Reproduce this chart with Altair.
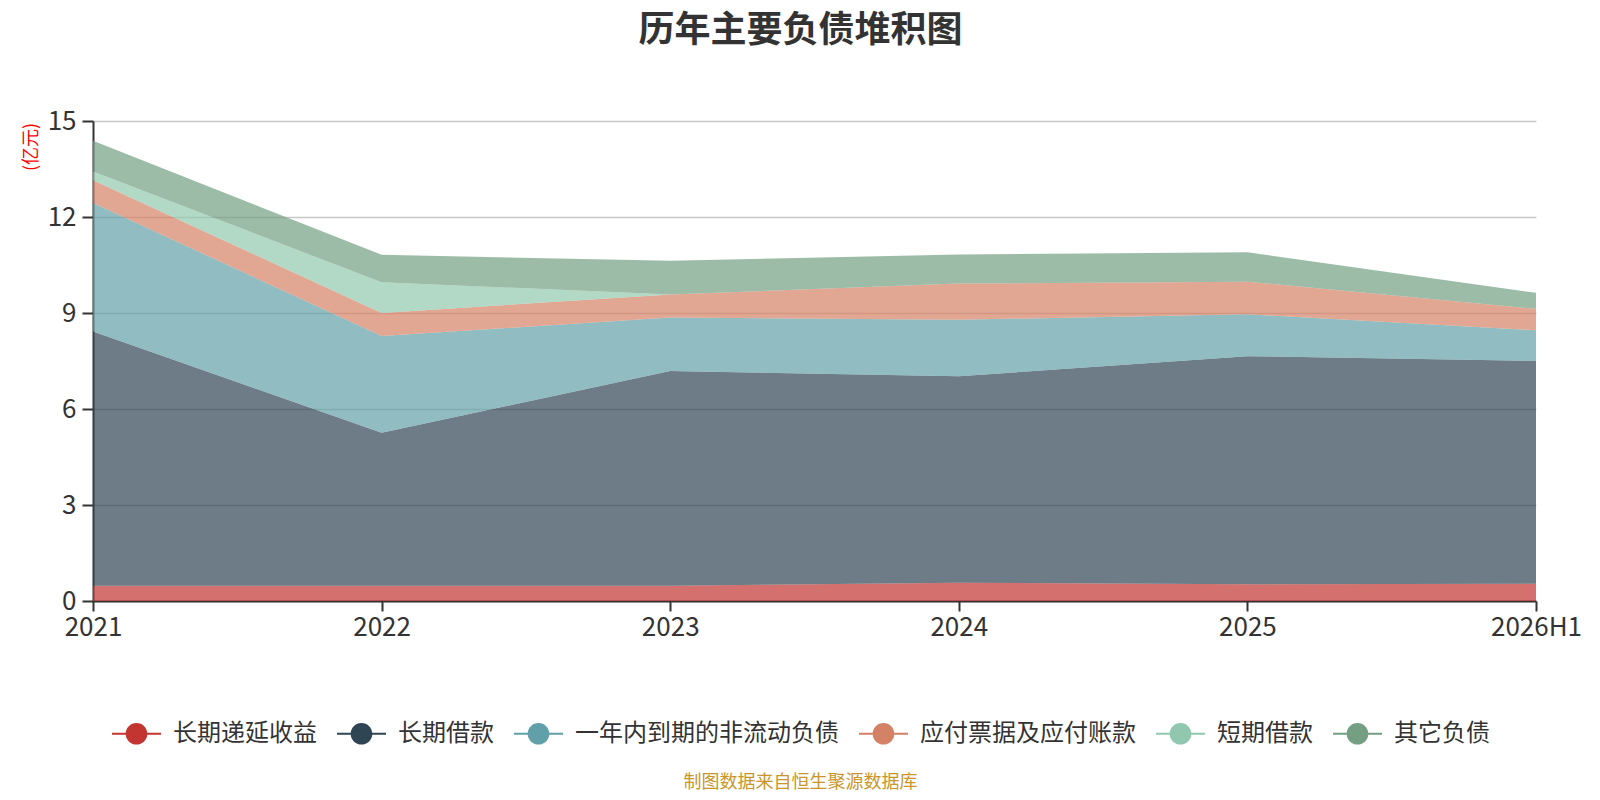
import altair as alt
import pandas as pd

years = ["2021", "2022", "2023", "2024", "2025", "2026H1"]
series = ["长期递延收益", "长期借款", "一年内到期的非流动负债", "应付票据及应付账款", "短期借款", "其它负债"]
colors = ["#c23531", "#2f4554", "#61a0a8", "#d48265", "#91c7ae", "#749f83"]

v_deferred = [0.48, 0.48, 0.48, 0.57, 0.52, 0.54]
v_longloan = [7.94, 4.78, 6.71, 6.45, 7.13, 6.96]
v_noncurrent = [4.02, 3.02, 1.67, 1.77, 1.31, 0.96]
v_payables = [0.71, 0.72, 0.72, 1.13, 1.02, 0.67]
v_shortloan = [0.27, 0.96, 0.0, 0.0, 0.0, 0.0]
v_other = [0.96, 0.86, 1.05, 0.91, 0.92, 0.50]

title_text = "历年主要负债堆积图"
y_unit = "(亿元)"
footer_text = "制图数据来自恒生聚源数据库"
y_ticks = [0, 3, 6, 9, 12, 15]

all_vals = [v_deferred, v_longloan, v_noncurrent, v_payables, v_shortloan, v_other]
rows = []
for i, (name, vals) in enumerate(zip(series, all_vals)):
    for y, v in zip(years, vals):
        rows.append({"year": y, "series": name, "value": v, "idx": i})
df = pd.DataFrame(rows)

FONT = "Noto Sans CJK SC"
W, H = 1443, 480
LEFT, TOP = 85, 113

legend_symbol = ("M-1,-0.045H1V0.045H-1Z "
                 "M-0.443,0A0.443,0.443,0,1,1,0.443,0A0.443,0.443,0,1,1,-0.443,0Z")

area = alt.Chart(df).mark_area(opacity=0.7, interpolate="linear").encode(
    x=alt.X("year:O", sort=years, title=None,
            scale=alt.Scale(type="point", padding=0),
            axis=alt.Axis(labelAngle=0, labelFontSize=26, labelColor="#333",
                          labelFont=FONT, tickSize=10, tickWidth=2, tickColor="#333",
                          domainColor="#333", domainWidth=2, labelPadding=3,
                          grid=False)),
    y=alt.Y("value:Q", stack="zero", title=y_unit,
            scale=alt.Scale(domain=[0, 15], nice=False),
            axis=alt.Axis(values=y_ticks, labelFontSize=26, labelColor="#333",
                          labelFont=FONT, tickSize=11, tickWidth=2, tickColor="#333",
                          domainColor="#333", domainWidth=2, labelPadding=6,
                          gridColor="#c8c8c8", gridWidth=1.3,
                          titleColor="#ff0000", titleFontSize=18, titleFont=FONT,
                          titleFontWeight="normal", titleAngle=-90,
                          titleX=-61.5, titleY=25.5, titleAlign="center",
                          titleBaseline="middle")),
    color=alt.Color("series:N", sort=series,
                    scale=alt.Scale(domain=series, range=colors),
                    legend=alt.Legend(title=None, orient="none", direction="horizontal",
                                      legendX=19, legendY=588,
                                      symbolType=legend_symbol, symbolSize=2401,
                                      symbolOpacity=1, symbolStrokeWidth=0,
                                      labelFontSize=24, labelColor="#333", labelFont=FONT,
                                      labelOffset=12, columnPadding=20, labelLimit=400)),
    order=alt.Order("idx:Q", sort="ascending"),
)

footer = alt.Chart(pd.DataFrame({"t": [footer_text]})).mark_text(
    fontSize=18, color="#c8962a", font=FONT, align="center", baseline="middle"
).encode(
    text="t:N",
    x=alt.value(707.5),
    y=alt.value(661.5),
)

chart = alt.layer(area, footer).properties(
    width=W, height=H,
    autosize=alt.AutoSizeParams(type="none"),
    padding={"left": LEFT, "top": TOP, "right": 56, "bottom": 191},
    title=alt.TitleParams(title_text, fontSize=36, font=FONT, fontWeight="bold",
                          color="#333", anchor="middle", dx=-14, offset=58),
).configure_view(stroke=None)

chart.save("out.html", embed_options={"renderer": "svg", "actions": False})
